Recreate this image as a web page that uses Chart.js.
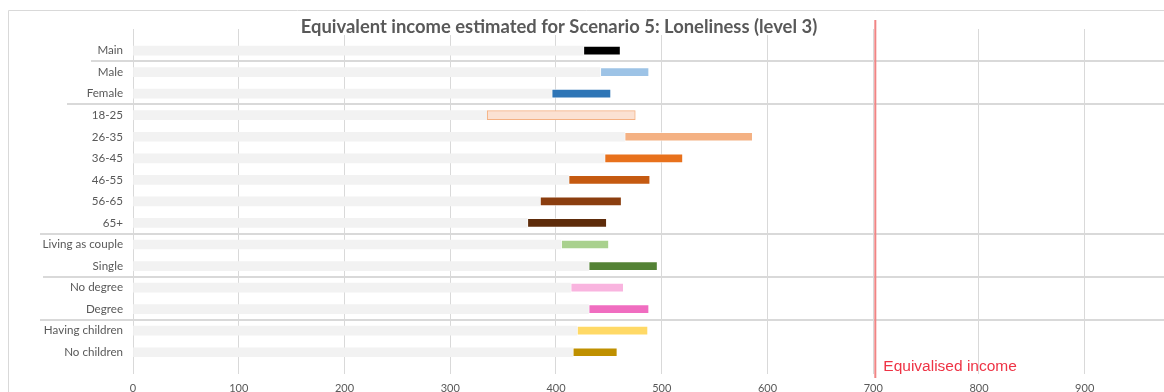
<!DOCTYPE html>
<html>
<head>
<meta charset="utf-8">
<script src="https://cdn.jsdelivr.net/npm/chart.js@4"></script>
<style>
  html, body { margin: 0; padding: 0; background: #fff; overflow: hidden; }
  #wrap { position: relative; width: 1164px; height: 403px; }
</style>
</head>
<body>
<div id="wrap"><canvas id="incomeChart"></canvas></div>
<script>
// Scenario 5 (loneliness level 3): range of equivalent income per group
const categories = ['Main', 'Male', 'Female', '18-25', '26-35', '36-45', '46-55', '56-65', '65+',
  'Living as couple', 'Single', 'No degree', 'Degree', 'Having children', 'No children'];
const lowValues  = [426, 442, 396, 335, 465, 446, 412, 385, 373, 405, 431, 414, 431, 420, 416];
const highValues = [461, 488, 452, 475, 586, 520, 489, 462, 448, 450, 496, 464, 488, 487, 458];
const equivalisedIncome = 702;
const xTickValues = [0, 100, 200, 300, 400, 500, 600, 700, 800, 900];

// group breaks: a separator goes below these rows
const groupBreaks = [0, 2, 8, 10, 12];

// styling
const barColors = ['#000000', '#9dc3e6', '#2e75b6', '#fbe1d2', '#f4b183', '#e8711c', '#c55a11',
  '#8b3e0f', '#5e2c0b', '#a9d18e', '#548235', '#f9b4df', '#f06dc0', '#ffd966', '#bf9000'];
const barBorders = barColors.map((c, i) => i === 3 ? '#f4b183' : 'rgba(255,255,255,0.55)');
const sepStartX = [91, 67, 40, 43, 40];
const textGrey = '#595959';
const lineGrey = '#d9d9d9';

// blank slot above and below so the plot area has some air
const labels = ['', ...categories, ''];
const pad = arr => [null, ...arr, null];

const chromePlugin = {
  id: 'chrome',
  beforeDraw(chart) {
    const ctx = chart.ctx;
    ctx.save();
    ctx.strokeStyle = lineGrey;
    ctx.lineWidth = 1;
    ctx.beginPath();
    ctx.moveTo(8.5, chart.height);
    ctx.lineTo(8.5, 10.5);
    ctx.lineTo(chart.width, 10.5);
    ctx.stroke();
    ctx.restore();
  },
  afterDatasetsDraw(chart) {
    const { ctx, scales: { x, y }, chartArea } = chart;
    ctx.save();
    // group separators
    ctx.strokeStyle = lineGrey;
    ctx.lineWidth = 2;
    groupBreaks.forEach((row, i) => {
      const py = Math.round(y.getPixelForValue(row + 1.5));
      ctx.beginPath();
      ctx.moveTo(sepStartX[i], py);
      ctx.lineTo(chartArea.right, py);
      ctx.stroke();
    });
    // equivalised income reference line
    const rx = x.getPixelForValue(equivalisedIncome);
    ctx.strokeStyle = '#f08585';
    ctx.lineWidth = 2;
    ctx.beginPath();
    ctx.moveTo(rx, 20);
    ctx.lineTo(rx, 378);
    ctx.stroke();
    ctx.fillStyle = '#ee3345';
    ctx.font = '15.5px "Liberation Sans", Arial, sans-serif';
    ctx.textAlign = 'left';
    ctx.textBaseline = 'alphabetic';
    ctx.fillText('Equivalised income', rx + 8, 371);
    // title on a white band
    const title = 'Equivalent income estimated for Scenario 5: Loneliness (level 3)';
    ctx.font = 'bold 18.4px Lato, "Open Sans", sans-serif';
    const w = ctx.measureText(title).width;
    ctx.fillStyle = '#fff';
    ctx.fillRect(559 - w / 2 - 4, 15, w + 8, 20);
    ctx.fillStyle = textGrey;
    ctx.textAlign = 'center';
    ctx.textBaseline = 'middle';
    ctx.fillText(title, 559, 27);
    ctx.restore();
  }
};

new Chart(document.getElementById('incomeChart'), {
  type: 'bar',
  data: {
    labels: labels,
    datasets: [
      {
        label: 'base',
        data: pad(lowValues.map(v => [0, v])),
        backgroundColor: '#f2f2f2',
        borderWidth: 0,
        barThickness: 9,
        grouped: false,
        order: 2
      },
      {
        label: 'range',
        data: pad(lowValues.map((v, i) => [v, highValues[i]])),
        backgroundColor: pad(barColors),
        borderColor: pad(barBorders),
        borderWidth: 1,
        borderSkipped: false,
        barThickness: 9,
        grouped: false,
        order: 1
      }
    ]
  },
  options: {
    indexAxis: 'y',
    responsive: true,
    maintainAspectRatio: false,
    animation: false,
    layout: { padding: { top: 29, left: 0, right: 0, bottom: 0 } },
    plugins: {
      legend: { display: false },
      tooltip: { enabled: false }
    },
    scales: {
      x: {
        type: 'linear',
        min: 0,
        max: 975,
        afterBuildTicks: s => { s.ticks = xTickValues.map(v => ({ value: v })); },
        grid: { color: lineGrey, lineWidth: 1, drawTicks: false },
        border: { display: false },
        ticks: {
          padding: 8,
          color: textGrey,
          font: { family: 'Lato, "Open Sans", sans-serif', size: 11 }
        }
      },
      y: {
        offset: false,
        afterFit: s => { s.width = 133; },
        grid: { display: false, drawTicks: false },
        border: { display: false },
        ticks: {
          padding: 10,
          color: textGrey,
          font: { family: 'Lato, "Open Sans", sans-serif', size: 11.6 }
        }
      }
    }
  },
  plugins: [chromePlugin]
});
</script>
</body>
</html>
